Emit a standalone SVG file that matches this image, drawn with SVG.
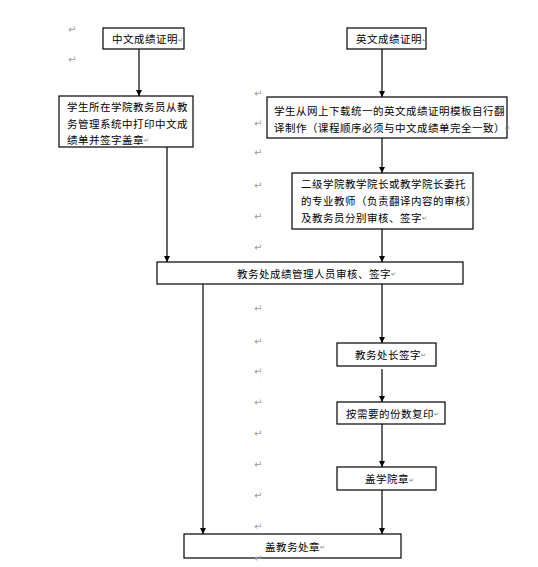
<svg xmlns="http://www.w3.org/2000/svg" width="538" height="567" viewBox="0 0 538 567">
<style>
.box{fill:#fff;stroke:#000;stroke-width:1.2}
.t{font-family:"Noto Sans CJK SC","Liberation Sans",sans-serif;font-size:10.5px;letter-spacing:0.5px;fill:#000;dominant-baseline:central}
.pm{font-family:"DejaVu Sans",sans-serif;font-size:10px;fill:#9a9a9a;dominant-baseline:central}
.sm{font-family:"DejaVu Sans",sans-serif;font-size:6px;fill:#777;dominant-baseline:central;letter-spacing:0}
.ln{stroke:#000;stroke-width:1.2;fill:none}
</style>
<defs>
<marker id="ah" viewBox="0 0 10 10" refX="10" refY="5" markerWidth="6" markerHeight="6" markerUnits="userSpaceOnUse" orient="auto">
<path d="M0,0 L10,5 L0,10 z" fill="#000"/>
</marker>
</defs>
<rect width="538" height="567" fill="#fff"/>
<g id="marks">
<text class="pm" x="68" y="29">↵</text>
<text class="pm" x="68" y="59">↵</text>
<text class="pm" x="254" y="93">↵</text>
<text class="pm" x="254" y="123">↵</text>
<text class="pm" x="254" y="152">↵</text>
<text class="pm" x="254" y="185">↵</text>
<text class="pm" x="254" y="216">↵</text>
<text class="pm" x="254" y="247">↵</text>
<text class="pm" x="254" y="308">↵</text>
<text class="pm" x="254" y="341">↵</text>
<text class="pm" x="254" y="371">↵</text>
<text class="pm" x="254" y="402">↵</text>
<text class="pm" x="254" y="433">↵</text>
<text class="pm" x="254" y="464">↵</text>
<text class="pm" x="254" y="495">↵</text>
<text class="pm" x="254" y="526">↵</text>
</g>
<g id="connectors">
<line class="ln" x1="139" y1="49" x2="139" y2="96" marker-end="url(#ah)"/>
<line class="ln" x1="382" y1="49" x2="382" y2="97" marker-end="url(#ah)"/>
<line class="ln" x1="382" y1="138" x2="382" y2="173" marker-end="url(#ah)"/>
<line class="ln" x1="167" y1="147" x2="167" y2="262" marker-end="url(#ah)"/>
<line class="ln" x1="382" y1="229" x2="382" y2="262" marker-end="url(#ah)"/>
<line class="ln" x1="382" y1="284" x2="382" y2="343" marker-end="url(#ah)"/>
<line class="ln" x1="382" y1="369" x2="382" y2="402" marker-end="url(#ah)"/>
<line class="ln" x1="382" y1="424" x2="382" y2="467" marker-end="url(#ah)"/>
<line class="ln" x1="382" y1="490" x2="382" y2="534" marker-end="url(#ah)"/>
<line class="ln" x1="203" y1="284" x2="203" y2="534" marker-end="url(#ah)"/>
</g>
<g id="n1">
<rect class="box" x="103" y="28" width="81" height="21"/>
<text class="t" x="112" y="38.5">中文成绩证明<tspan class="sm">↵</tspan></text>
</g>
<g id="n2">
<rect class="box" x="59" y="96" width="134" height="51"/>
<text class="t" x="67" y="106">学生所在学院教务员从教</text>
<text class="t" x="67" y="123">务管理系统中打印中文成</text>
<text class="t" x="67" y="139">绩单并签字盖章<tspan class="sm">↵</tspan></text>
</g>
<g id="n3">
<rect class="box" x="347" y="28" width="79" height="21"/>
<text class="t" x="356" y="38.5">英文成绩证明<tspan class="sm">↵</tspan></text>
</g>
<g id="n4">
<rect class="box" x="267" y="97" width="240" height="41"/>
<text class="t" x="274" y="110">学生从网上下载统一的英文成绩证明模板自行翻</text>
<text class="t" x="274" y="127">译制作（课程顺序必须与中文成绩单完全一致）<tspan class="sm">↵</tspan></text>
</g>
<g id="n5">
<rect class="box" x="292" y="173" width="181" height="56"/>
<text class="t" x="301" y="183">二级学院教学院长或教学院长委托</text>
<text class="t" x="301" y="200">的专业教师（负责翻译内容的审核）</text>
<text class="t" x="301" y="217">及教务员分别审核、签字<tspan class="sm">↵</tspan></text>
</g>
<g id="n6">
<rect class="box" x="157" y="262" width="306" height="22"/>
<text class="t" x="237" y="273">教务处成绩管理人员审核、签字<tspan class="sm">↵</tspan></text>
</g>
<g id="n7">
<rect class="box" x="337" y="343" width="99" height="23"/>
<text class="t" x="355" y="354">教务处长签字<tspan class="sm">↵</tspan></text>
</g>
<g id="n8">
<rect class="box" x="337" y="402" width="108" height="22"/>
<text class="t" x="346" y="413">按需要的份数复印<tspan class="sm">↵</tspan></text>
</g>
<g id="n9">
<rect class="box" x="337" y="467" width="99" height="23"/>
<text class="t" x="365" y="478.5">盖学院章<tspan class="sm">↵</tspan></text>
</g>
<g id="n10">
<rect class="box" x="184" y="534" width="217" height="24"/>
<text class="t" x="265" y="546">盖教务处章<tspan class="sm">↵</tspan></text>
</g>
<text class="pm" x="254" y="558">↵</text>
</svg>
